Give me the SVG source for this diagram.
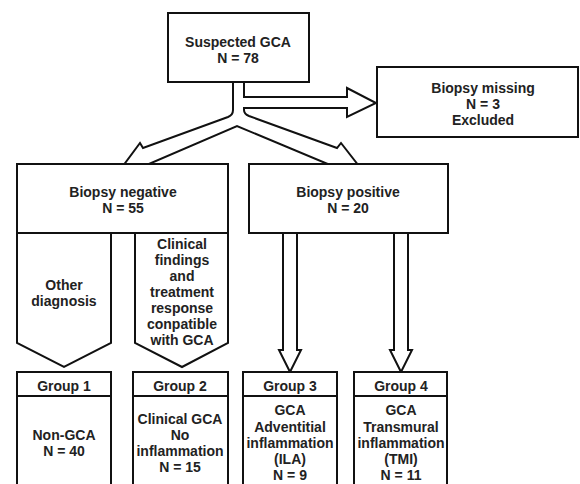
<svg xmlns="http://www.w3.org/2000/svg" width="580" height="484" viewBox="0 0 580 484">
<style>
.b{fill:#fff;stroke:#111;stroke-width:2}
.c{fill:#fff;stroke:#111;stroke-width:2;stroke-linejoin:miter}
text{font-family:"Liberation Sans",Arial,Helvetica,sans-serif;font-weight:bold;font-size:14px;fill:#222;text-anchor:middle}
</style>
<rect width="580" height="484" fill="#fff"/>
<g id="connectors">
<path class="c" d="M233,80 L233,110 Q233,115 228,117 L143,148 L140,143 L120,170 L135,170 L237,126 L342,170 L362,170 L341,143 L337,148 L249,116 Q244,114 244,110 L244,108 L347,108 L347,117 L376,103 L347,88 L347,97 L244,97 L244,80 Z"/>
<path class="c" d="M283,231 L283,350 L279,350 L290,372 L301,350 L297,350 L297,231 Z"/>
<path class="c" d="M394,231 L394,350 L390,350 L401,372 L412,350 L408,350 L408,231 Z"/>
</g>
<g id="suspected">
<rect class="b" x="168" y="13" width="141" height="69"/>
<text x="238" y="47">Suspected GCA</text>
<text x="238" y="63">N = 78</text>
</g>
<g id="missing">
<rect class="b" x="377" y="67" width="201" height="70"/>
<text x="483" y="93">Biopsy missing</text>
<text x="483" y="109">N = 3</text>
<text x="483" y="125">Excluded</text>
</g>
<g id="negative">
<rect class="b" x="17" y="164" width="211" height="69"/>
<text x="123" y="197">Biopsy negative</text>
<text x="123" y="213">N = 55</text>
</g>
<g id="positive">
<rect class="b" x="249" y="164" width="199" height="69"/>
<text x="348" y="197">Biopsy positive</text>
<text x="348" y="213">N = 20</text>
</g>
<g id="other">
<path class="c" d="M17,233 L111,233 L111,343 L64,367 L17,343 Z"/>
<text x="64" y="290">Other</text>
<text x="64" y="306">diagnosis</text>
</g>
<g id="clinical">
<path class="c" d="M135,233 L228,233 L228,343 L182,367 L135,343 Z"/>
<text x="182" y="249">Clinical</text>
<text x="182" y="265">findings</text>
<text x="182" y="281">and</text>
<text x="182" y="297">treatment</text>
<text x="182" y="313">response</text>
<text x="182" y="329">conpatible</text>
<text x="182" y="345">with GCA</text>
</g>
<g id="group1">
<rect class="b" x="17" y="372" width="94" height="120"/>
<line class="b" x1="17" y1="396" x2="111" y2="396"/>
<text x="64" y="391">Group 1</text>
<text x="64" y="440">Non-GCA</text>
<text x="64" y="456">N = 40</text>
</g>
<g id="group2">
<rect class="b" x="133" y="372" width="95" height="120"/>
<line class="b" x1="133" y1="396" x2="228" y2="396"/>
<text x="180" y="391">Group 2</text>
<text x="180" y="424">Clinical GCA</text>
<text x="180" y="440">No</text>
<text x="180" y="456">inflammation</text>
<text x="180" y="472">N = 15</text>
</g>
<g id="group3">
<rect class="b" x="243" y="372" width="94" height="120"/>
<line class="b" x1="243" y1="396" x2="337" y2="396"/>
<text x="290" y="391">Group 3</text>
<text x="290" y="415">GCA</text>
<text x="290" y="431.5">Adventitial</text>
<text x="290" y="448">inflammation</text>
<text x="290" y="464">(ILA)</text>
<text x="290" y="480">N = 9</text>
</g>
<g id="group4">
<rect class="b" x="354" y="372" width="93" height="120"/>
<line class="b" x1="354" y1="396" x2="447" y2="396"/>
<text x="401" y="391">Group 4</text>
<text x="401" y="415">GCA</text>
<text x="401" y="431.5">Transmural</text>
<text x="401" y="448">inflammation</text>
<text x="401" y="464">(TMI)</text>
<text x="401" y="480">N = 11</text>
</g>
</svg>
